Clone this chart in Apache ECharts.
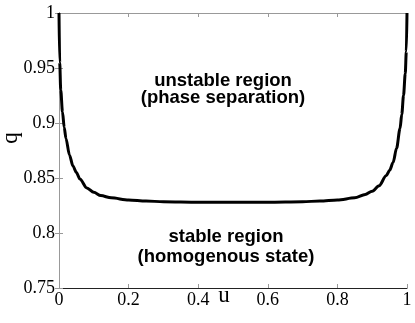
<!DOCTYPE html>
<html>
<head>
<meta charset="utf-8">
<script src="https://cdn.jsdelivr.net/npm/echarts@6/dist/echarts.min.js"></script>
<style>
  html, body { margin: 0; padding: 0; background: #fff; }
  #chart { width: 415px; height: 323px; }
</style>
</head>
<body>
<div id="chart"></div>
<script>
// boundary curve q(u)
const uValues = [0, 0.002, 0.005, 0.01, 0.015, 0.02, 0.03, 0.04, 0.05, 0.06, 0.08, 0.1, 0.12, 0.15, 0.2, 0.25, 0.3, 0.4, 0.5, 0.6, 0.7, 0.75, 0.8, 0.85, 0.88, 0.9, 0.92, 0.94, 0.95, 0.96, 0.97, 0.98, 0.985, 0.99, 0.995, 0.998, 1]
const qValues = [1.0, 0.955, 0.93, 0.91, 0.896, 0.886, 0.871, 0.861, 0.855, 0.849, 0.841, 0.837, 0.834, 0.832, 0.83, 0.829, 0.8285, 0.828, 0.828, 0.828, 0.8285, 0.829, 0.83, 0.832, 0.835, 0.838, 0.843, 0.852, 0.857, 0.864, 0.877, 0.895, 0.908, 0.925, 0.945, 0.965, 1.0]

const xTicks = [0, 0.2, 0.4, 0.6, 0.8, 1]
const yTicks = [0.75, 0.8, 0.85, 0.9, 0.95, 1]
const upperText = ['unstable region', '(phase separation)']
const lowerText = ['stable region', '(homogenous state)']

const serif = '"Liberation Serif", "DejaVu Serif", serif'
const sans = '"Liberation Sans", Arial, sans-serif'

const chart = echarts.init(document.getElementById('chart'))

const tickStyle = { show: true, inside: true, length: 4, lineStyle: { color: '#999', width: 1 } }

chart.setOption({
  animation: false,
  grid: { left: 59, right: 8, top: 13, bottom: 35 },
  xAxis: [
    {
      type: 'value', min: xTicks[0], max: xTicks[xTicks.length - 1], interval: 0.2,
      axisLine: { lineStyle: { color: '#222', width: 1 } },
      axisTick: tickStyle,
      splitLine: { show: false },
      axisLabel: { color: '#000', fontFamily: serif, fontSize: 18, margin: 3 }
    },
    {
      type: 'value', position: 'top', min: 0, max: 1, interval: 0.2,
      axisLine: { show: true, lineStyle: { color: '#999', width: 1 } },
      axisTick: tickStyle,
      splitLine: { show: false },
      axisLabel: { show: false }
    }
  ],
  yAxis: [
    {
      type: 'value', min: yTicks[0], max: yTicks[yTicks.length - 1], interval: 0.05,
      axisLine: { show: true, lineStyle: { color: '#222', width: 1 } },
      axisTick: tickStyle,
      splitLine: { show: false },
      axisLabel: { color: '#000', fontFamily: serif, fontSize: 18, margin: 4 }
    },
    {
      type: 'value', position: 'right', min: 0.75, max: 1, interval: 0.05,
      axisLine: { show: true, lineStyle: { color: '#999', width: 1 } },
      axisTick: tickStyle,
      splitLine: { show: false },
      axisLabel: { show: false }
    }
  ],
  series: [
    {
      type: 'line',
      data: uValues.map((u, i) => [u, qValues[i]]),
      showSymbol: false,
      smooth: 0.3,
      smoothMonotone: 'x',
      lineStyle: { color: '#000', width: 3 }
    }
  ],
  graphic: [
    {
      type: 'text', x: 11, y: 138, rotation: Math.PI / 2,
      style: { text: 'q', fontFamily: serif, fontSize: 23, fill: '#000', align: 'center', verticalAlign: 'middle' }
    },
    {
      type: 'text', x: 224, y: 296,
      style: { text: 'u', fontFamily: serif, fontSize: 23, fill: '#000', align: 'center', verticalAlign: 'middle' }
    },
    {
      type: 'text', x: 223, y: 89,
      style: { text: upperText.join('\n'), fontFamily: sans, fontWeight: 'bold', fontSize: 18.5, lineHeight: 17, fill: '#000', align: 'center', verticalAlign: 'middle' }
    },
    {
      type: 'text', x: 226, y: 247,
      style: { text: lowerText.join('\n'), fontFamily: sans, fontWeight: 'bold', fontSize: 18.5, lineHeight: 20, fill: '#000', align: 'center', verticalAlign: 'middle' }
    }
  ]
})
</script>
</body>
</html>
